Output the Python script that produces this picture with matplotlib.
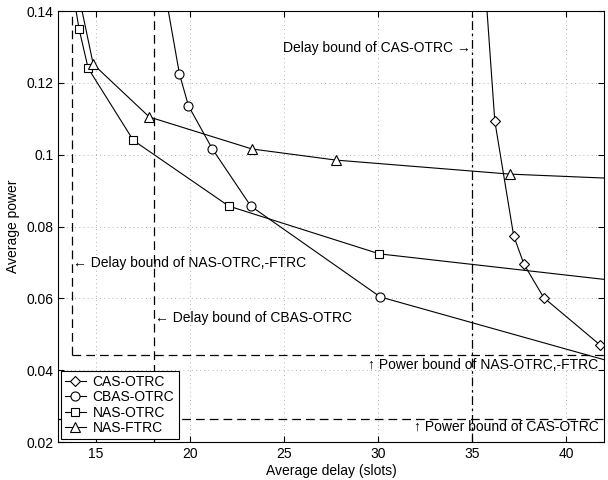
import numpy as np
import matplotlib
matplotlib.use("Agg")
import matplotlib.pyplot as plt

plt.rcParams['font.family'] = ['Liberation Sans', 'DejaVu Sans']
plt.rcParams['font.size'] = 10

# data (first/last points lie outside the axes)
cas_x = [35.25, 36.2, 37.2, 37.75, 38.8, 41.8]
cas_y = [0.18, 0.1094, 0.0775, 0.0695, 0.0602, 0.0470]
cbas_x = [17.85, 19.45, 19.93, 21.2, 23.24, 30.12, 42.5]
cbas_y = [0.17, 0.1225, 0.1136, 0.1016, 0.0857, 0.0604, 0.0422]
naso_x = [13.32, 14.12, 14.6, 17.0, 22.07, 30.07, 42.5]
naso_y = [0.16, 0.135, 0.1241, 0.104, 0.0857, 0.0724, 0.0650]
nasf_x = [13.48, 14.87, 17.85, 23.3, 27.77, 37.0, 42.5]
nasf_y = [0.16, 0.1252, 0.1105, 0.1016, 0.0985, 0.0946, 0.0934]

nas_delay_bound = 13.75
cbas_delay_bound = 18.1
cas_delay_bound = 35.0
nas_power_bound = 0.0442
cas_power_bound = 0.0264

fig = plt.figure(figsize=(6.08, 4.8), dpi=100)
ax = fig.add_axes([0.0954, 0.079, 0.898, 0.898])

kw = dict(color='black', lw=0.8, mfc='white', mec='black', mew=0.8)
ax.plot(cas_x, cas_y, marker='D', ms=5.5, label='CAS-OTRC', **kw)
ax.plot(cbas_x, cbas_y, marker='o', ms=6.5, label='CBAS-OTRC', **kw)
ax.plot(naso_x, naso_y, marker='s', ms=5.5, label='NAS-OTRC', **kw)
ax.plot(nasf_x, nasf_y, marker='^', ms=6.5, label='NAS-FTRC', **kw)

# bounds
dash = dict(color='black', lw=0.9, ls=(0, (7, 4)))
ax.plot([nas_delay_bound, nas_delay_bound], [nas_power_bound, 0.14], **dash)
ax.plot([nas_delay_bound, 42], [nas_power_bound, nas_power_bound], **dash)
ax.plot([cbas_delay_bound, cbas_delay_bound], [0.02, 0.14], **dash)
ax.plot([cas_delay_bound, cas_delay_bound], [0.02, 0.14], color='black', lw=0.9, ls=(0, (7, 3, 2, 3)))
ax.plot([13, 42], [cas_power_bound, cas_power_bound], **dash)

ax.text(cas_delay_bound - 0.1, 0.1297, 'Delay bound of CAS-OTRC \u2192', ha='right', va='center')
ax.text(nas_delay_bound + 0.05, 0.0698, '\u2190 Delay bound of NAS-OTRC,-FTRC', ha='left', va='center')
ax.text(cbas_delay_bound + 0.05, 0.0545, '\u2190 Delay bound of CBAS-OTRC', ha='left', va='center')
ax.text(41.7, 0.0415, '\u2191 Power bound of NAS-OTRC,-FTRC', ha='right', va='center')
ax.text(41.7, 0.0242, '\u2191 Power bound of CAS-OTRC', ha='right', va='center')

ax.set_xlim(13, 42)
ax.set_ylim(0.02, 0.14)
ax.set_xticks([15, 20, 25, 30, 35, 40])
ax.set_yticks([0.02, 0.04, 0.06, 0.08, 0.1, 0.12, 0.14])
ax.set_yticklabels(['0.02', '0.04', '0.06', '0.08', '0.1', '0.12', '0.14'])
ax.tick_params(direction='in', length=4, top=True, right=True)
ax.grid(True, ls=(0, (1, 4)), color='#999999', lw=0.6)
ax.set_xlabel('Average delay (slots)', labelpad=2)
ax.set_ylabel('Average power', labelpad=4)

leg = ax.legend(loc='lower left', borderaxespad=0.2, fancybox=False, framealpha=1,
                edgecolor='black', handlelength=1.5, labelspacing=0.1, borderpad=0.3,
                handletextpad=0.5)
leg.get_frame().set_linewidth(0.8)

fig.savefig('out.png', dpi=100)
